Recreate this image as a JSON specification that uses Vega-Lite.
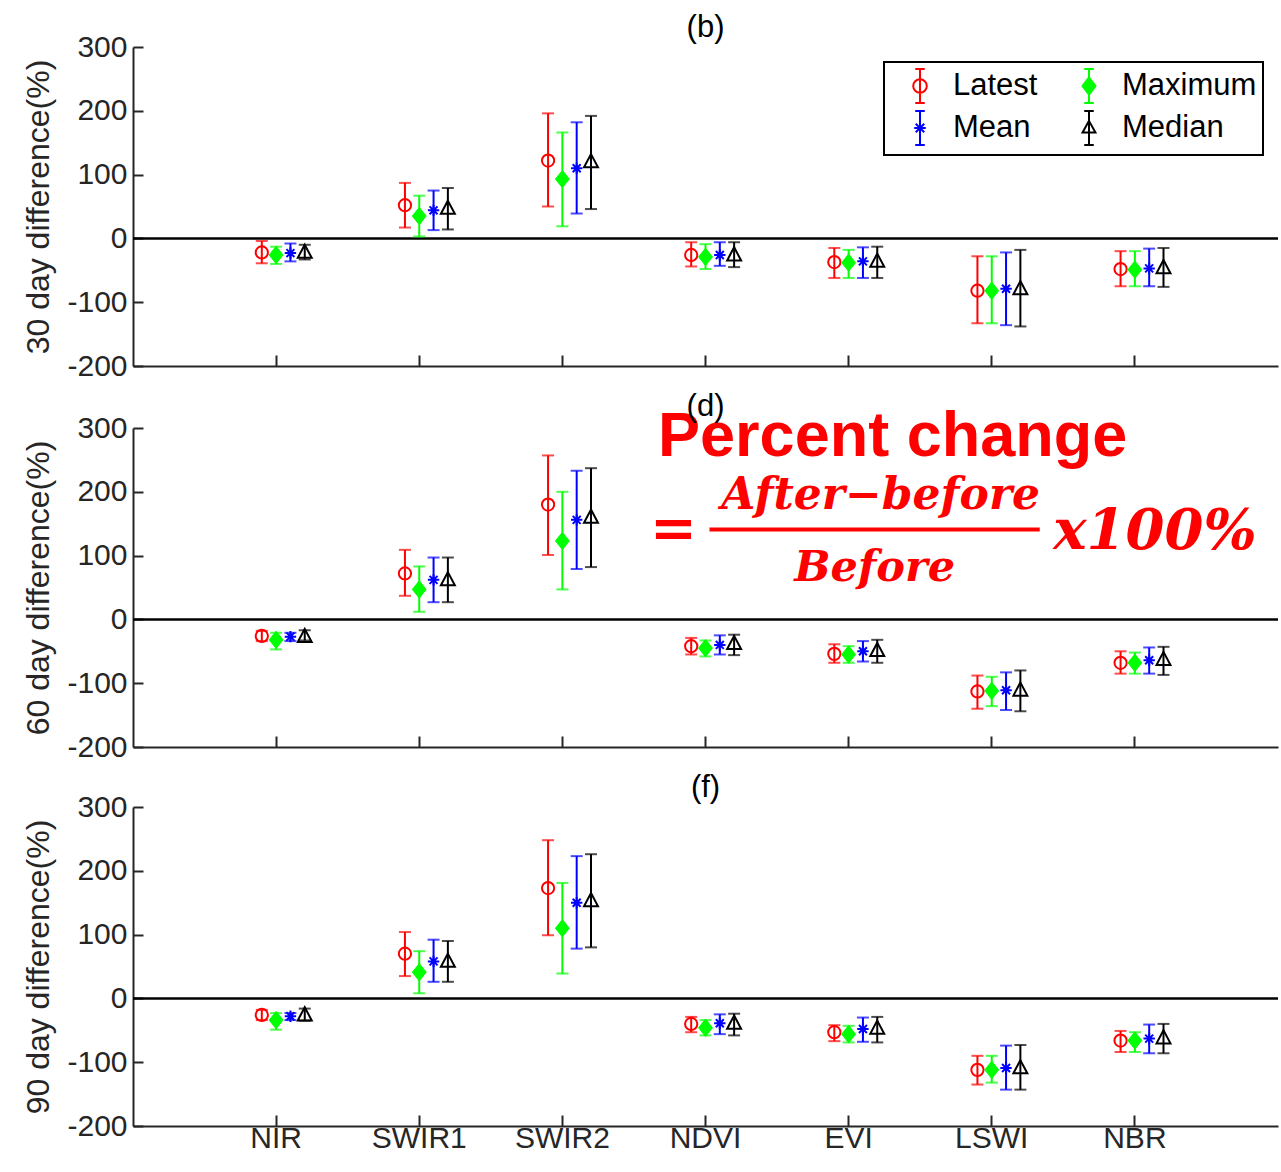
{
"$schema":"https://vega.github.io/schema/vega-lite/v6.json",
"background":"white",
"padding":{"left":22,"top":12,"right":0,"bottom":0},
"spacing":10,
"config":{"view":{"stroke":null},"font":"Liberation Sans",
 "axis":{"domainColor":"#262626","domainWidth":2,"tickColor":"#262626","tickWidth":2,"labelColor":"#262626","labelFont":"Liberation Sans","labelFontSize":30,"titleFont":"Liberation Sans","titleFontSize":32,"titleFontWeight":"normal","titleColor":"#262626","grid":false},
 "legend":{"orient":"top-right","offset":15,"columns":2,"labelFontSize":31,"labelFont":"Liberation Sans","labelColor":"#000000","strokeColor":"#000000","strokeWidth":2,"fillColor":"#ffffff","padding":6,"symbolOffset":12,"labelOffset":15,"columnPadding":21,"rowPadding":0,"symbolSize":1156,"symbolStrokeWidth":2,"symbolOpacity":1,"symbolFillColor":"transparent","labelLimit":300,"title":null},
 "title":{"font":"Liberation Sans","fontSize":31,"fontWeight":"normal","color":"#000000"}},
"datasets":{
"p30":[
{"band":"NIR","series":"Latest","value":-22,"lo":-39,"hi":-4},
{"band":"NIR","series":"Maximum","value":-26,"lo":-40,"hi":-13},
{"band":"NIR","series":"Mean","value":-23,"lo":-36,"hi":-8},
{"band":"NIR","series":"Median","value":-22,"lo":-33,"hi":-10},
{"band":"SWIR1","series":"Latest","value":52,"lo":17,"hi":87},
{"band":"SWIR1","series":"Maximum","value":35,"lo":3,"hi":67},
{"band":"SWIR1","series":"Mean","value":44,"lo":13,"hi":75},
{"band":"SWIR1","series":"Median","value":47,"lo":14,"hi":79},
{"band":"SWIR2","series":"Latest","value":122,"lo":50,"hi":196},
{"band":"SWIR2","series":"Maximum","value":93,"lo":19,"hi":166},
{"band":"SWIR2","series":"Mean","value":110,"lo":39,"hi":182},
{"band":"SWIR2","series":"Median","value":120,"lo":46,"hi":192},
{"band":"NDVI","series":"Latest","value":-26,"lo":-44,"hi":-6},
{"band":"NDVI","series":"Maximum","value":-29,"lo":-48,"hi":-9},
{"band":"NDVI","series":"Mean","value":-26,"lo":-43,"hi":-6},
{"band":"NDVI","series":"Median","value":-26,"lo":-45,"hi":-6},
{"band":"EVI","series":"Latest","value":-37,"lo":-62,"hi":-15},
{"band":"EVI","series":"Maximum","value":-38,"lo":-62,"hi":-18},
{"band":"EVI","series":"Mean","value":-36,"lo":-62,"hi":-14},
{"band":"EVI","series":"Median","value":-36,"lo":-62,"hi":-13},
{"band":"LSWI","series":"Latest","value":-82,"lo":-133,"hi":-28},
{"band":"LSWI","series":"Maximum","value":-82,"lo":-133,"hi":-28},
{"band":"LSWI","series":"Mean","value":-79,"lo":-136,"hi":-22},
{"band":"LSWI","series":"Median","value":-79,"lo":-138,"hi":-18},
{"band":"NBR","series":"Latest","value":-48,"lo":-75,"hi":-20},
{"band":"NBR","series":"Maximum","value":-49,"lo":-75,"hi":-20},
{"band":"NBR","series":"Mean","value":-47,"lo":-75,"hi":-16},
{"band":"NBR","series":"Median","value":-46,"lo":-76,"hi":-15}],
"p60":[
{"band":"NIR","series":"Latest","value":-26,"lo":-34,"hi":-18},
{"band":"NIR","series":"Maximum","value":-32,"lo":-47,"hi":-21},
{"band":"NIR","series":"Mean","value":-27,"lo":-34,"hi":-21},
{"band":"NIR","series":"Median","value":-27,"lo":-33,"hi":-17},
{"band":"SWIR1","series":"Latest","value":72,"lo":37,"hi":109},
{"band":"SWIR1","series":"Maximum","value":47,"lo":12,"hi":83},
{"band":"SWIR1","series":"Mean","value":62,"lo":27,"hi":97},
{"band":"SWIR1","series":"Median","value":62,"lo":27,"hi":97},
{"band":"SWIR2","series":"Latest","value":180,"lo":101,"hi":257},
{"band":"SWIR2","series":"Maximum","value":123,"lo":47,"hi":200},
{"band":"SWIR2","series":"Mean","value":156,"lo":79,"hi":233},
{"band":"SWIR2","series":"Median","value":160,"lo":82,"hi":237},
{"band":"NDVI","series":"Latest","value":-42,"lo":-55,"hi":-29},
{"band":"NDVI","series":"Maximum","value":-45,"lo":-58,"hi":-33},
{"band":"NDVI","series":"Mean","value":-40,"lo":-55,"hi":-25},
{"band":"NDVI","series":"Median","value":-38,"lo":-56,"hi":-24},
{"band":"EVI","series":"Latest","value":-54,"lo":-68,"hi":-39},
{"band":"EVI","series":"Maximum","value":-55,"lo":-68,"hi":-42},
{"band":"EVI","series":"Mean","value":-50,"lo":-66,"hi":-34},
{"band":"EVI","series":"Median","value":-49,"lo":-68,"hi":-32},
{"band":"LSWI","series":"Latest","value":-113,"lo":-140,"hi":-88},
{"band":"LSWI","series":"Maximum","value":-112,"lo":-136,"hi":-90},
{"band":"LSWI","series":"Mean","value":-111,"lo":-142,"hi":-83},
{"band":"LSWI","series":"Median","value":-111,"lo":-144,"hi":-80},
{"band":"NBR","series":"Latest","value":-68,"lo":-85,"hi":-50},
{"band":"NBR","series":"Maximum","value":-68,"lo":-85,"hi":-52},
{"band":"NBR","series":"Mean","value":-64,"lo":-85,"hi":-44},
{"band":"NBR","series":"Median","value":-63,"lo":-87,"hi":-43}],
"p90":[
{"band":"NIR","series":"Latest","value":-26,"lo":-34,"hi":-18},
{"band":"NIR","series":"Maximum","value":-34,"lo":-49,"hi":-23},
{"band":"NIR","series":"Mean","value":-28,"lo":-34,"hi":-23},
{"band":"NIR","series":"Median","value":-26,"lo":-35,"hi":-16},
{"band":"SWIR1","series":"Latest","value":70,"lo":35,"hi":104},
{"band":"SWIR1","series":"Maximum","value":41,"lo":8,"hi":74},
{"band":"SWIR1","series":"Mean","value":58,"lo":26,"hi":92},
{"band":"SWIR1","series":"Median","value":58,"lo":26,"hi":90},
{"band":"SWIR2","series":"Latest","value":173,"lo":99,"hi":248},
{"band":"SWIR2","series":"Maximum","value":110,"lo":39,"hi":181},
{"band":"SWIR2","series":"Mean","value":150,"lo":78,"hi":223},
{"band":"SWIR2","series":"Median","value":153,"lo":80,"hi":226},
{"band":"NDVI","series":"Latest","value":-40,"lo":-53,"hi":-29},
{"band":"NDVI","series":"Maximum","value":-46,"lo":-58,"hi":-34},
{"band":"NDVI","series":"Mean","value":-39,"lo":-56,"hi":-25},
{"band":"NDVI","series":"Median","value":-39,"lo":-58,"hi":-24},
{"band":"EVI","series":"Latest","value":-53,"lo":-67,"hi":-42},
{"band":"EVI","series":"Maximum","value":-56,"lo":-69,"hi":-43},
{"band":"EVI","series":"Mean","value":-48,"lo":-68,"hi":-30},
{"band":"EVI","series":"Median","value":-47,"lo":-69,"hi":-29},
{"band":"LSWI","series":"Latest","value":-112,"lo":-135,"hi":-90},
{"band":"LSWI","series":"Maximum","value":-112,"lo":-132,"hi":-90},
{"band":"LSWI","series":"Mean","value":-109,"lo":-143,"hi":-74},
{"band":"LSWI","series":"Median","value":-109,"lo":-143,"hi":-73},
{"band":"NBR","series":"Latest","value":-66,"lo":-84,"hi":-51},
{"band":"NBR","series":"Maximum","value":-66,"lo":-84,"hi":-53},
{"band":"NBR","series":"Mean","value":-63,"lo":-86,"hi":-41},
{"band":"NBR","series":"Median","value":-62,"lo":-86,"hi":-40}]
},
"vconcat":[
{"width":1145,"height":319,"title":{"text":"(b)","offset":-12},
 "layer":[
  {"data":{"values":[{}]},"mark":{"type":"rule","color":"#000000","strokeWidth":2.5},
   "encoding":{"y":{"datum":0,"type":"quantitative","scale":{"domain":[-200,300],"nice":false}}}},
  {"data":{"name":"p30"},"mark":{"type":"rule","strokeWidth":2},
   "encoding":{"x":{"field":"band","type":"nominal","sort":null,"scale":{"domain":["NIR","SWIR1","SWIR2","NDVI","EVI","LSWI","NBR"],"paddingInner":0,"paddingOuter":0.5},"axis":{"title":null,"labels":false,"tickSize":-11}},
    "xOffset":{"field":"series","type":"nominal","scale":{"domain":["_0","_1","_2","Latest","Maximum","Mean","Median","_7","_8"],"paddingInner":0,"paddingOuter":0.5}},
    "y":{"field":"lo","type":"quantitative","scale":{"domain":[-200,300],"nice":false},"axis":{"title":"30 day difference(%)","values":[-200,-100,0,100,200,300],"tickSize":-10,"labelPadding":16,"titlePadding":11,"labelExpr":"''+datum.value"}},
    "y2":{"field":"hi"},
    "color":{"field":"series","type":"nominal","scale":{"range":["#ff0000","#00ff00","#0000ff","#000000"]},"legend":null}}},
  {"data":{"name":"p30"},"mark":{"type":"tick","thickness":2,"size":12},
   "encoding":{"x":{"field":"band","type":"nominal"},"xOffset":{"field":"series","type":"nominal"},"y":{"field":"lo","type":"quantitative"},"color":{"field":"series","type":"nominal","legend":null}}},
  {"data":{"name":"p30"},"mark":{"type":"tick","thickness":2,"size":12},
   "encoding":{"x":{"field":"band","type":"nominal"},"xOffset":{"field":"series","type":"nominal"},"y":{"field":"hi","type":"quantitative"},"color":{"field":"series","type":"nominal","legend":null}}},
  {"data":{"name":"p30"},"transform":[{"filter":"datum.series==='Latest'"}],"mark":{"type":"point","shape":"circle","filled":false,"stroke":"#ff0000","strokeWidth":2,"size":150,"opacity":1},
   "encoding":{"x":{"field":"band","type":"nominal"},"xOffset":{"field":"series","type":"nominal"},"y":{"field":"value","type":"quantitative"}}},
  {"data":{"name":"p30"},"transform":[{"filter":"datum.series==='Maximum'"}],"mark":{"type":"point","shape":"M0,-1L0.8,0L0,1L-0.8,0Z","filled":true,"fill":"#00ff00","stroke":"#00ff00","strokeWidth":1,"size":300,"opacity":1},
   "encoding":{"x":{"field":"band","type":"nominal"},"xOffset":{"field":"series","type":"nominal"},"y":{"field":"value","type":"quantitative"}}},
  {"data":{"name":"p30"},"transform":[{"filter":"datum.series==='Mean'"}],"mark":{"type":"point","shape":"M0,-1L0,1M-1,0L1,0M-0.7,-0.7L0.7,0.7M-0.7,0.7L0.7,-0.7","filled":false,"stroke":"#0000ff","strokeWidth":2,"size":130,"opacity":1},
   "encoding":{"x":{"field":"band","type":"nominal"},"xOffset":{"field":"series","type":"nominal"},"y":{"field":"value","type":"quantitative"}}},
  {"data":{"name":"p30"},"transform":[{"filter":"datum.series==='Median'"}],"mark":{"type":"point","shape":"M0,-1L0.9,0.7L-0.9,0.7Z","filled":false,"stroke":"#000000","strokeWidth":2,"size":240,"opacity":1},
   "encoding":{"x":{"field":"band","type":"nominal"},"xOffset":{"field":"series","type":"nominal"},"y":{"field":"value","type":"quantitative"}}},
  {"data":{"name":"p30"},"mark":{"type":"point","strokeWidth":2,"filled":false,"opacity":0},
   "encoding":{
    "x":{"field":"band","type":"nominal"},"xOffset":{"field":"series","type":"nominal"},"y":{"field":"value","type":"quantitative"},
    "shape":{"field":"series","type":"nominal","title":null,"scale":{"domain":["Latest","Mean","Maximum","Median"],"range":[
      "M0,-1L0,1M-0.28,-1L0.28,-1M-0.28,1L0.28,1M0.4,0A0.4,0.4 0 1,1 -0.4,0A0.4,0.4 0 1,1 0.4,0Z",
      "M0,-1L0,1M-0.28,-1L0.28,-1M-0.28,1L0.28,1M-0.34,0L0.34,0M-0.25,-0.25L0.25,0.25M-0.25,0.25L0.25,-0.25",
      "M0,-1L0,1M-0.28,-1L0.28,-1M-0.28,1L0.28,1M0,-0.5L0.38,0L0,0.5L-0.38,0Z",
      "M0,-1L0,1M-0.28,-1L0.28,-1M-0.28,1L0.28,1M0,-0.42L0.38,0.27L-0.38,0.27Z"]},
      "legend":{"symbolFillColor":"transparent","symbolOpacity":1}},
    "stroke":{"field":"series","type":"nominal","title":null,"scale":{"domain":["Latest","Mean","Maximum","Median"],"range":["#ff0000","#0000ff","#00ff00","#000000"]},"legend":{"symbolFillColor":"transparent","symbolOpacity":1}},
    "fill":{"field":"series","type":"nominal","title":null,"scale":{"domain":["Latest","Mean","Maximum","Median"],"range":["transparent","transparent","#00ff00","transparent"]},"legend":{"symbolFillColor":"transparent","symbolOpacity":1}}}}
 ]},
{"width":1145,"height":319,"title":{"text":"(d)","offset":-17},
 "layer":[
  {"data":{"values":[{}]},"mark":{"type":"rule","color":"#000000","strokeWidth":2.5},
   "encoding":{"y":{"datum":0,"type":"quantitative","scale":{"domain":[-200,300],"nice":false}}}},
  {"data":{"name":"p60"},"mark":{"type":"rule","strokeWidth":2},
   "encoding":{"x":{"field":"band","type":"nominal","sort":null,"scale":{"domain":["NIR","SWIR1","SWIR2","NDVI","EVI","LSWI","NBR"],"paddingInner":0,"paddingOuter":0.5},"axis":{"title":null,"labels":false,"tickSize":-11}},
    "xOffset":{"field":"series","type":"nominal","scale":{"domain":["_0","_1","_2","Latest","Maximum","Mean","Median","_7","_8"],"paddingInner":0,"paddingOuter":0.5}},
    "y":{"field":"lo","type":"quantitative","scale":{"domain":[-200,300],"nice":false},"axis":{"title":"60 day difference(%)","values":[-200,-100,0,100,200,300],"tickSize":-10,"labelPadding":16,"titlePadding":11,"labelExpr":"''+datum.value"}},
    "y2":{"field":"hi"},
    "color":{"field":"series","type":"nominal","legend":null}}},
  {"data":{"name":"p60"},"mark":{"type":"tick","thickness":2,"size":12},
   "encoding":{"x":{"field":"band","type":"nominal"},"xOffset":{"field":"series","type":"nominal"},"y":{"field":"lo","type":"quantitative"},"color":{"field":"series","type":"nominal","legend":null}}},
  {"data":{"name":"p60"},"mark":{"type":"tick","thickness":2,"size":12},
   "encoding":{"x":{"field":"band","type":"nominal"},"xOffset":{"field":"series","type":"nominal"},"y":{"field":"hi","type":"quantitative"},"color":{"field":"series","type":"nominal","legend":null}}},
  {"data":{"name":"p60"},"transform":[{"filter":"datum.series==='Latest'"}],"mark":{"type":"point","shape":"circle","filled":false,"stroke":"#ff0000","strokeWidth":2,"size":150,"opacity":1},
   "encoding":{"x":{"field":"band","type":"nominal"},"xOffset":{"field":"series","type":"nominal"},"y":{"field":"value","type":"quantitative"}}},
  {"data":{"name":"p60"},"transform":[{"filter":"datum.series==='Maximum'"}],"mark":{"type":"point","shape":"M0,-1L0.8,0L0,1L-0.8,0Z","filled":true,"fill":"#00ff00","stroke":"#00ff00","strokeWidth":1,"size":300,"opacity":1},
   "encoding":{"x":{"field":"band","type":"nominal"},"xOffset":{"field":"series","type":"nominal"},"y":{"field":"value","type":"quantitative"}}},
  {"data":{"name":"p60"},"transform":[{"filter":"datum.series==='Mean'"}],"mark":{"type":"point","shape":"M0,-1L0,1M-1,0L1,0M-0.7,-0.7L0.7,0.7M-0.7,0.7L0.7,-0.7","filled":false,"stroke":"#0000ff","strokeWidth":2,"size":130,"opacity":1},
   "encoding":{"x":{"field":"band","type":"nominal"},"xOffset":{"field":"series","type":"nominal"},"y":{"field":"value","type":"quantitative"}}},
  {"data":{"name":"p60"},"transform":[{"filter":"datum.series==='Median'"}],"mark":{"type":"point","shape":"M0,-1L0.9,0.7L-0.9,0.7Z","filled":false,"stroke":"#000000","strokeWidth":2,"size":240,"opacity":1},
   "encoding":{"x":{"field":"band","type":"nominal"},"xOffset":{"field":"series","type":"nominal"},"y":{"field":"value","type":"quantitative"}}},
  {"data":{"values":[{}]},"mark":{"type":"text","text":"Percent change","font":"Liberation Sans","fontWeight":"bold","fontSize":63,"color":"#ff0000","align":"center","baseline":"alphabetic","dx":44},
   "encoding":{"x":{"datum":"EVI"},"y":{"datum":256}}},
  {"data":{"values":[{}]},"mark":{"type":"text","text":"=","font":"DejaVu Serif","fontWeight":"bold","fontSize":56,"color":"#ff0000","align":"center","baseline":"alphabetic","dx":-32},
   "encoding":{"x":{"datum":"NDVI"},"y":{"datum":113}}},
  {"data":{"values":[{}]},"mark":{"type":"text","text":"After−before","font":"DejaVu Serif","fontWeight":"bold","fontStyle":"italic","fontSize":44,"color":"#ff0000","align":"center","baseline":"alphabetic","dx":32},
   "encoding":{"x":{"datum":"EVI"},"y":{"datum":173}}},
  {"data":{"values":[{}]},"mark":{"type":"rule","color":"#ff0000","strokeWidth":4,"xOffset":4,"x2Offset":48},
   "encoding":{"x":{"datum":"NDVI"},"x2":{"datum":"LSWI"},"y":{"datum":141}}},
  {"data":{"values":[{}]},"mark":{"type":"text","text":"Before","font":"DejaVu Serif","fontWeight":"bold","fontStyle":"italic","fontSize":43,"color":"#ff0000","align":"center","baseline":"alphabetic","dx":26},
   "encoding":{"x":{"datum":"EVI"},"y":{"datum":60}}},
  {"data":{"values":[{}]},"mark":{"type":"text","text":"x100%","font":"DejaVu Serif","fontWeight":"bold","fontStyle":"italic","fontSize":56,"color":"#ff0000","align":"center","baseline":"alphabetic","dx":20},
   "encoding":{"x":{"datum":"NBR"},"y":{"datum":110}}}
 ]},
{"width":1145,"height":319,"title":{"text":"(f)","offset":-12},
 "layer":[
  {"data":{"values":[{}]},"mark":{"type":"rule","color":"#000000","strokeWidth":2.5},
   "encoding":{"y":{"datum":0,"type":"quantitative","scale":{"domain":[-200,300],"nice":false}}}},
  {"data":{"name":"p90"},"mark":{"type":"rule","strokeWidth":2},
   "encoding":{"x":{"field":"band","type":"nominal","sort":null,"scale":{"domain":["NIR","SWIR1","SWIR2","NDVI","EVI","LSWI","NBR"],"paddingInner":0,"paddingOuter":0.5},"axis":{"title":null,"labels":true,"labelAngle":0,"labelPadding":8,"tickSize":-11}},
    "xOffset":{"field":"series","type":"nominal","scale":{"domain":["_0","_1","_2","Latest","Maximum","Mean","Median","_7","_8"],"paddingInner":0,"paddingOuter":0.5}},
    "y":{"field":"lo","type":"quantitative","scale":{"domain":[-200,300],"nice":false},"axis":{"title":"90 day difference(%)","values":[-200,-100,0,100,200,300],"tickSize":-10,"labelPadding":16,"titlePadding":11,"labelExpr":"''+datum.value"}},
    "y2":{"field":"hi"},
    "color":{"field":"series","type":"nominal","legend":null}}},
  {"data":{"name":"p90"},"mark":{"type":"tick","thickness":2,"size":12},
   "encoding":{"x":{"field":"band","type":"nominal"},"xOffset":{"field":"series","type":"nominal"},"y":{"field":"lo","type":"quantitative"},"color":{"field":"series","type":"nominal","legend":null}}},
  {"data":{"name":"p90"},"mark":{"type":"tick","thickness":2,"size":12},
   "encoding":{"x":{"field":"band","type":"nominal"},"xOffset":{"field":"series","type":"nominal"},"y":{"field":"hi","type":"quantitative"},"color":{"field":"series","type":"nominal","legend":null}}},
  {"data":{"name":"p90"},"transform":[{"filter":"datum.series==='Latest'"}],"mark":{"type":"point","shape":"circle","filled":false,"stroke":"#ff0000","strokeWidth":2,"size":150,"opacity":1},
   "encoding":{"x":{"field":"band","type":"nominal"},"xOffset":{"field":"series","type":"nominal"},"y":{"field":"value","type":"quantitative"}}},
  {"data":{"name":"p90"},"transform":[{"filter":"datum.series==='Maximum'"}],"mark":{"type":"point","shape":"M0,-1L0.8,0L0,1L-0.8,0Z","filled":true,"fill":"#00ff00","stroke":"#00ff00","strokeWidth":1,"size":300,"opacity":1},
   "encoding":{"x":{"field":"band","type":"nominal"},"xOffset":{"field":"series","type":"nominal"},"y":{"field":"value","type":"quantitative"}}},
  {"data":{"name":"p90"},"transform":[{"filter":"datum.series==='Mean'"}],"mark":{"type":"point","shape":"M0,-1L0,1M-1,0L1,0M-0.7,-0.7L0.7,0.7M-0.7,0.7L0.7,-0.7","filled":false,"stroke":"#0000ff","strokeWidth":2,"size":130,"opacity":1},
   "encoding":{"x":{"field":"band","type":"nominal"},"xOffset":{"field":"series","type":"nominal"},"y":{"field":"value","type":"quantitative"}}},
  {"data":{"name":"p90"},"transform":[{"filter":"datum.series==='Median'"}],"mark":{"type":"point","shape":"M0,-1L0.9,0.7L-0.9,0.7Z","filled":false,"stroke":"#000000","strokeWidth":2,"size":240,"opacity":1},
   "encoding":{"x":{"field":"band","type":"nominal"},"xOffset":{"field":"series","type":"nominal"},"y":{"field":"value","type":"quantitative"}}}
 ]}
]
}
